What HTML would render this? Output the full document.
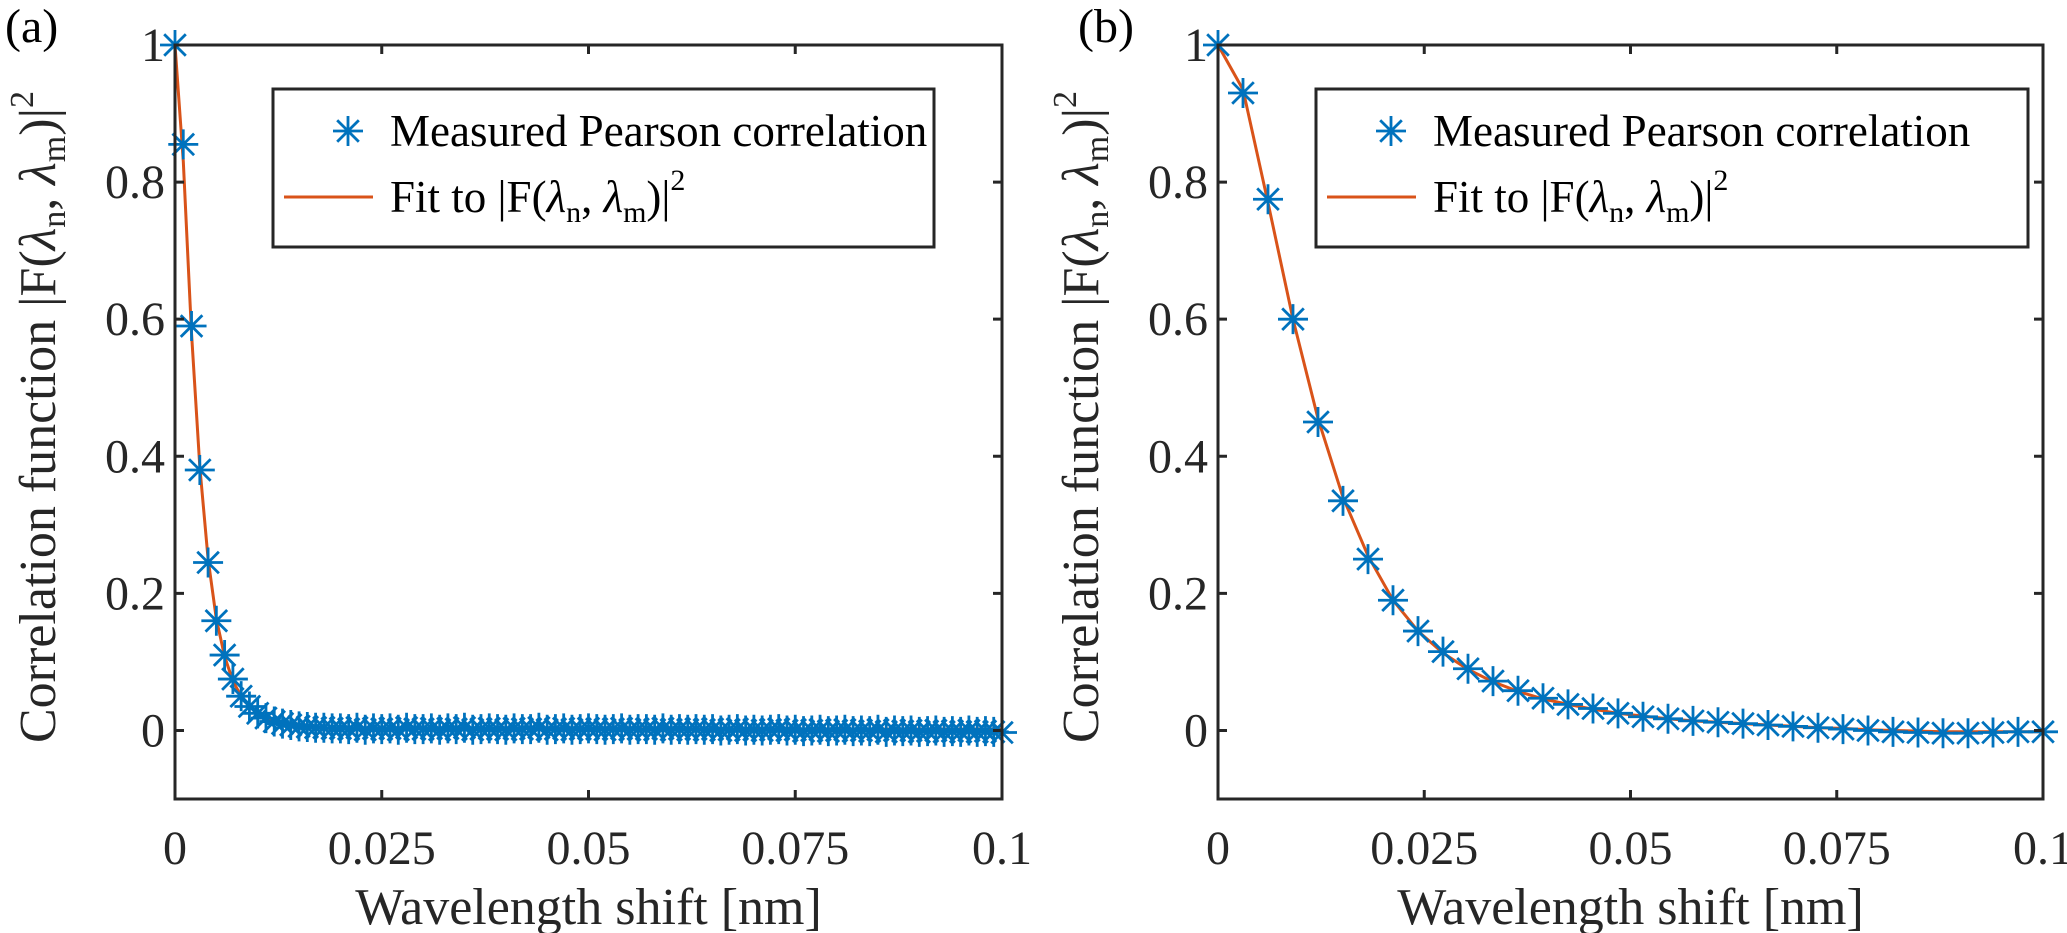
<!DOCTYPE html>
<html><head><meta charset="utf-8">
<style>
html,body{margin:0;padding:0;background:#fff;}
svg{display:block;font-family:"Liberation Serif","DejaVu Serif",serif;}
</style></head>
<body>
<svg id="chart" width="2067" height="933" viewBox="0 0 2067 933" xmlns="http://www.w3.org/2000/svg">
<text x="5" y="42" font-size="48">(a)</text>
<text x="1078" y="42" font-size="48">(b)</text>
<g id="pa"></g>
<g id="pb"></g>
</svg>
<script>
// ---------- data ----------
const xTicks = [0, 0.025, 0.05, 0.075, 0.1];
const xTickLabels = ["0", "0.025", "0.05", "0.075", "0.1"];
const yTicks = [0, 0.2, 0.4, 0.6, 0.8, 1];
const yTickLabels = ["0", "0.2", "0.4", "0.6", "0.8", "1"];

const aHead = [1, 0.855, 0.59, 0.38, 0.245, 0.16, 0.11, 0.075, 0.05, 0.035, 0.025, 0.018, 0.013, 0.01, 0.008, 0.006, 0.005, 0.004, 0.004, 0.003];
const aTail = [0.003,0.002,0.004,0.001,0.003,0.002,0.003,0.001,0.004,0.002,
0.002,0.003,0.001,0.003,0.002,0.004,0.001,0.002,0.003,0.002,
0.001,0.003,0.002,0.002,0.004,0.001,0.002,0.003,0.001,0.002,
0.003,0.002,0.001,0.002,0.003,0.001,0.002,0.002,0.001,0.003,
0.001,0.002,0.001,0.002,0.001,0.002,0.000,0.001,0.002,0.000,
0.001,0.000,0.001,0.002,0.000,0.001,-0.001,0.000,0.001,-0.001,
0.000,0.001,-0.001,0.000,-0.001,0.001,-0.002,0.000,-0.001,0.000,
-0.002,-0.001,0.000,-0.002,-0.001,-0.002,0.000,-0.002,-0.001,-0.002,-0.003];
const aFitHead = [1, 0.83, 0.58, 0.385, 0.25, 0.163, 0.108, 0.072, 0.05, 0.035, 0.025, 0.018, 0.013, 0.01, 0.008, 0.006, 0.005, 0.004, 0.0035, 0.003];
const aFitTail = [0.003,0.003,0.0025,0.0025,0.0025,0.002,0.002,0.002,0.002,0.002];
const aStep = 0.001;

const bVals = [1, 0.93, 0.775, 0.60, 0.45, 0.335, 0.25, 0.19, 0.145, 0.115, 0.09, 0.072, 0.058, 0.047, 0.038, 0.032, 0.025, 0.02, 0.017, 0.014, 0.012, 0.01, 0.008, 0.006, 0.004, 0.002, 0.000, -0.002, -0.003, -0.004, -0.004, -0.003, -0.002, -0.002];
const bFit = [1, 0.935, 0.77, 0.60, 0.455, 0.34, 0.255, 0.19, 0.145, 0.113, 0.089, 0.071, 0.057, 0.046, 0.038, 0.031, 0.025, 0.021, 0.017, 0.014, 0.012, 0.01, 0.008, 0.006, 0.004, 0.003, 0.001, 0.000, -0.001, -0.002, -0.002, -0.002, -0.002, -0.002];
const bStep = 0.10 / 33;

// ---------- drawing ----------
const NS = "http://www.w3.org/2000/svg";
function mk(parent, tag, attrs) {
  const e = document.createElementNS(NS, tag);
  for (const k in attrs) e.setAttribute(k, attrs[k]);
  parent.appendChild(e);
  return e;
}
const BLUE = "#0072BD", ORANGE = "#D95319";

function panel(g, L, R, T, B, pts, fit, legendBox) {
  const ymin = -0.1, ymax = 1;
  const sx = v => L + (v - 0) / 0.1 * (R - L);
  const sy = v => B - (v - ymin) / (ymax - ymin) * (B - T);

  const fl = mk(g, "polyline", {points: fit.map(p => sx(p[0]).toFixed(1) + "," + sy(p[1]).toFixed(1)).join(" "), fill: "none", stroke: ORANGE, "stroke-width": 3});
  
  

  const mg = mk(g, "g", {stroke: BLUE, "stroke-width": 2.8, fill: "none"});
  
  
  pts.forEach(p => {
    const cx = sx(p[0]), cy = sy(p[1]), r = 15, d = r * 0.72;
    const m = mk(mg, "path", {d: `M${cx-r},${cy}H${cx+r}M${cx},${cy-r}V${cy+r}M${cx-d},${cy-d}L${cx+d},${cy+d}M${cx-d},${cy+d}L${cx+d},${cy-d}`});
    
    
  });

  const box = mk(g, "rect", {x: L, y: T, width: R - L, height: B - T, fill: "none", stroke: "#262626", "stroke-width": 3});
  
  

  const tl = 9;
  xTicks.forEach((v, i) => {
    const x = sx(v);
    mk(g, "path", {d: `M${x},${B}V${B-tl}M${x},${T}V${T+tl}`, stroke: "#262626", "stroke-width": 3});
    const t = mk(g, "text", {x: x, y: 864, "font-size": 48, "text-anchor": "middle", fill: "#262626"});
    t.textContent = xTickLabels[i];
    
    
  });
  yTicks.forEach((v, i) => {
    const y = sy(v);
    mk(g, "path", {d: `M${L},${y}H${L+tl}M${R},${y}H${R-tl}`, stroke: "#262626", "stroke-width": 3});
    const t = mk(g, "text", {x: L - 10, y: y + 16, "font-size": 48, "text-anchor": "end", fill: "#262626"});
    t.textContent = yTickLabels[i];
    
    
  });

  const xl = mk(g, "text", {x: (L + R) / 2, y: 924, "font-size": 52, "text-anchor": "middle", fill: "#262626"});
  xl.textContent = "Wavelength shift [nm]";
  
  

  const yx = L - 120, yy = (T + B) / 2 - 5;
  const yl = mk(g, "text", {x: yx, y: yy, "font-size": 52, "text-anchor": "middle", fill: "#262626", transform: `rotate(-90 ${yx} ${yy})`});
  yl.innerHTML = 'Correlation function |F(<tspan font-style="italic">λ</tspan><tspan font-size="34" dy="10">n</tspan><tspan dy="-10">, </tspan><tspan font-style="italic">λ</tspan><tspan font-size="34" dy="10">m</tspan><tspan dy="-10">)|</tspan><tspan font-size="34" dy="-22">2</tspan>';
  
  

  const [lx, ly, lw, lh] = legendBox;
  const lg = mk(g, "g", {});
  
  
  mk(lg, "rect", {x: lx, y: ly, width: lw, height: lh, fill: "#fff", stroke: "#262626", "stroke-width": 3});
  const mx = lx + 75, my = ly + 42, r = 15, d = r * 0.72;
  const lm = mk(lg, "path", {d: `M${mx-r},${my}H${mx+r}M${mx},${my-r}V${my+r}M${mx-d},${my-d}L${mx+d},${my+d}M${mx-d},${my+d}L${mx+d},${my-d}`, stroke: BLUE, "stroke-width": 2.8});
  
  
  const t1 = mk(lg, "text", {x: lx + 117, y: my + 15, "font-size": 45, fill: "#000"});
  t1.textContent = "Measured Pearson correlation";
  
  
  const fy = ly + 108;
  const ll = mk(lg, "line", {x1: lx + 11, x2: lx + 100, y1: fy, y2: fy, stroke: ORANGE, "stroke-width": 3});
  
  
  const t2 = mk(lg, "text", {x: lx + 117, y: fy + 15, "font-size": 45, fill: "#000"});
  t2.innerHTML = 'Fit to |F(<tspan font-style="italic">λ</tspan><tspan font-size="30" dy="10">n</tspan><tspan dy="-10">, </tspan><tspan font-style="italic">λ</tspan><tspan font-size="30" dy="10">m</tspan><tspan dy="-10">)|</tspan><tspan font-size="30" dy="-22">2</tspan>';
  
  
}

const aVals = aHead.concat(aTail);
const aPts = aVals.map((v, i) => [i * aStep, v]);
const aFitVals = aFitHead.concat(aFitTail);
const aFit = aFitVals.map((v, i) => [i < aFitHead.length ? i * aStep : (aFitHead.length - 1) * aStep + (i - aFitHead.length + 1) * ((0.1 - (aFitHead.length - 1) * aStep) / aFitTail.length), v]);
const bPts = bVals.map((v, i) => [i * bStep, v]);
const bFitPts = bFit.map((v, i) => [i * bStep, v]);

panel(document.getElementById("pa"), 175, 1002, 45, 799, aPts, aFit, [273, 89, 661, 158]);
panel(document.getElementById("pb"), 1218, 2043, 45, 799, bPts, bFitPts, [1316, 89, 712, 158]);
</script>
</body></html>
